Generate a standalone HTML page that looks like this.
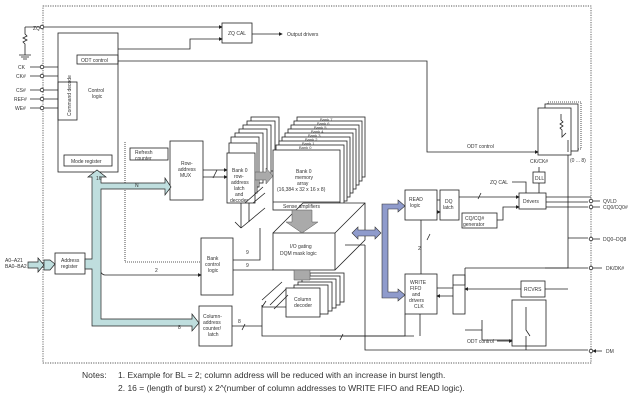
<!DOCTYPE html>
<html><head><meta charset="utf-8"><style>
html,body{margin:0;padding:0;background:#fff;}
svg{display:block;font-family:"Liberation Sans",sans-serif;}
text{fill:#333;font-size:5px;}
</style></head><body>
<svg width="640" height="415" viewBox="0 0 640 415" xmlns="http://www.w3.org/2000/svg">
<defs>
<marker id="a" markerWidth="5" markerHeight="5" refX="4" refY="2.5" orient="auto"><path d="M0,0 L5,2.5 L0,5z" fill="#222"/></marker>
</defs>
<g stroke="#222" stroke-width="0.8" fill="none">
<rect x="43" y="6" width="548" height="357" stroke-dasharray="1.2,1.2" stroke-width="0.7"/>
<path d="M25,27 H222" marker-end="url(#a)"/>
<path d="M25,27 V34 l2,2 -4,2 4,2 -4,2 2,2 V55"/>
<path d="M19,55 H31 M21,57 H29 M23,59 H27"/>
<rect x="222" y="23" width="30" height="20" fill="#fff"/>
<path d="M252,34 H282" marker-end="url(#a)"/>
<rect x="58" y="33" width="60" height="139" fill="#fff"/>
<rect x="77" y="55" width="41" height="9"/>
<rect x="58" y="82" width="19" height="38"/>
<rect x="64" y="155" width="48" height="11"/>
<path d="M118,49 H190 V39 H222" marker-end="url(#a)"/>
<path d="M118,61 H427 V152 H538" marker-end="url(#a)"/>
<path d="M30,67 H58 M30,76 H58 M30,90 H58 M30,99 H58 M30,108 H58"/>
<path d="M125,142 V262 H201" stroke-dasharray="1,1"/>
<rect x="130" y="148" width="38" height="12"/>
<rect x="170" y="141" width="33" height="59"/>
<path d="M203,170 H227" marker-end="url(#a)"/>
<path d="M203,177 H227" marker-end="url(#a)"/>
<path d="M213,178 l4,-8"/>
<g fill="#fff">
<rect x="251" y="117" width="28" height="50"/><rect x="247" y="121" width="28" height="50"/><rect x="243" y="125" width="28" height="50"/><rect x="239" y="129" width="28" height="50"/><rect x="235" y="133" width="28" height="50"/><rect x="231" y="137" width="28" height="50"/><rect x="229" y="143" width="28" height="50"/>
<rect x="227" y="153" width="28" height="50"/>
</g>
<path d="M241,203 V228 M245,203 l18,-16 M249,203 V222 M253,203 l12,-10 M241,228 l24,-20 M235,222 l6,6"/>
<g fill="#fff">
<rect x="297" y="117" width="68" height="60"/><rect x="294" y="121" width="68" height="60"/><rect x="291" y="125" width="68" height="60"/><rect x="288" y="129" width="68" height="60"/><rect x="285" y="133" width="68" height="60"/><rect x="282" y="137" width="68" height="60"/><rect x="279" y="141" width="68" height="60"/><rect x="276" y="145" width="68" height="60"/>
<rect x="273" y="150" width="67" height="60"/>
</g>
<path d="M273,202 H340"/>
<path d="M273,233 L303,203 H365 V240 L335,270" fill="#fff"/>
<rect x="273" y="233" width="62" height="37" fill="#fff"/>
<path d="M335,233 L365,203"/>
<g fill="#fff">
<rect x="310" y="273" width="34" height="29"/><rect x="306" y="276" width="34" height="29"/><rect x="302" y="279" width="34" height="29"/><rect x="298" y="282" width="34" height="29"/><rect x="294" y="285" width="34" height="29"/>
<rect x="286" y="288" width="34" height="29"/>
</g>
<path d="M270,305 l16,-16 M274,309 l14,-14 M262,300 l20,-18 M262,307 H286"/>
<rect x="201" y="238" width="32" height="57"/>
<path d="M233,260 H260 V228 M233,270 H273" />
<path d="M97,262 Q100,275 105,275 H201" marker-end="url(#a)"/>
<rect x="199" y="306" width="33" height="40"/>
<path d="M232,326 H262 V336 H405 V314 M262,326 V305"/>
<path d="M242,330 l3,-6 M340,340 l3,-6 M262,307 l4,-6"/>
<rect x="55" y="253" width="30" height="21"/>
<rect x="405" y="190" width="32" height="30"/>
<rect x="440" y="190" width="19" height="30"/>
<rect x="405" y="274" width="32" height="40"/>
<rect x="453" y="275" width="12" height="39"/>
<path d="M437,200 H440 M437,212 H440" marker-end="url(#a)"/>
<path d="M453,288 H437 M453,296 H437" marker-end="url(#a)"/>
<path d="M421,220 V274"/>
<path d="M427,240 l3,-6"/>
<path d="M459,197 H519" marker-end="url(#a)"/>
<path d="M478,199 l3,-6"/>
<rect x="462" y="213" width="35" height="15"/>
<path d="M497,220 H503 V207 H519" marker-end="url(#a)"/>
<rect x="519" y="193" width="27" height="16"/>
<rect x="533" y="172" width="12" height="11"/>
<path d="M539,167 V172 M539,183 V193 M512,182 H526 V193" />
<path d="M546,197 H591 M546,202 H588 M546,207 H588"/>
<path d="M568,152 V268 H545" />
<path d="M568,238 H588 M465,268 V285 H453 M465,268 H588"/>
<rect x="521" y="281" width="24" height="16"/>
<path d="M521,289 H465" marker-end="url(#a)"/>
<path d="M545,289 H568"/>
<path d="M420,314 V336 M482,340 H512 M482,340 V320 M465,330 H482"/>
<path d="M414,336 H320 M365,245 V350 H588 M365,245 H345"/>
<rect x="512" y="300" width="34" height="46"/>
<path d="M526,307 V330 l4,6 M526,336 V350"/>
<path d="M497,341 H512" marker-end="url(#a)"/>
<rect x="548" y="102" width="33" height="47" stroke-dasharray="1,1"/>
<rect x="545" y="104" width="33" height="47" fill="#fff"/>
<rect x="538" y="108" width="33" height="47" fill="#fff"/>
<path d="M561,114 V120 l2,2 -3,2 3,2 -3,2 2,2 V137 l4,-4 M568,140 V152"/>
<g fill="#fff">
<circle cx="42" cy="27" r="1.8"/><circle cx="42" cy="67" r="1.8"/><circle cx="42" cy="76" r="1.8"/><circle cx="42" cy="90" r="1.8"/><circle cx="42" cy="99" r="1.8"/><circle cx="42" cy="108" r="1.8"/>
<circle cx="591" cy="201" r="1.8"/><circle cx="591" cy="207" r="1.8"/><circle cx="591" cy="239" r="1.8"/><circle cx="591" cy="268" r="1.8"/><circle cx="591" cy="351" r="1.8"/>
</g>
<path d="M593,201 H600 M593,207 H600 M593,239 H600 M602,268 H593 M602,351 H593" marker-end="url(#a)"/>
</g>
<g fill="#bfdede" stroke="#222" stroke-width="0.7">
<path d="M28,262 H38 V258 L44,265 L38,272 V268 H28z"/>
<path d="M44,260 H50 L55,264 L50,270 H44z"/>
<path d="M85,259 H92 V177 H88 L97,170 L106,177 H101 V183 H165 V178 L171,187 L165,195 V189 H101 V319 H192 V314 L199,323 L192,331 V326 H92 V269 H85z"/>
</g>
<g fill="#aaa" stroke="#555" stroke-width="0.5">
<path d="M255,172 H266 V168 L273,176 L266,184 V180 H255z"/>
<path d="M292,210 H312 V222 H318 L302,233 L286,222 H292z"/>
<path d="M294,270 H310 V280 H294z"/>
</g>
<g fill="#8f9bcc" stroke="#333" stroke-width="0.6">
<path d="M382,204 H398 V200 L405,206 L398,212 V209 H388 V292 H398 V289 L405,295 L398,301 V298 H382z"/>
<path d="M352,233 L358,227 V230 H375 V227 L381,233 L375,239 V236 H358 V239z"/>
</g>
<g>
<text x="33" y="30">ZQ</text>
<text x="228" y="35">ZQ CAL</text>
<text x="287" y="36">Output drivers</text>
<text x="18" y="69">CK</text><text x="16" y="78">CK#</text><text x="16" y="92">CS#</text><text x="14" y="101">REF#</text><text x="15" y="110">WE#</text>
<text x="81" y="62">ODT control</text>
<text x="88" y="92">Control</text><text x="92" y="98">logic</text>
<text x="71" y="116" transform="rotate(-90 71 116)" font-size="4.5">Command decode</text>
<text x="71" y="163">Mode register</text>
<text x="135" y="154">Refresh</text><text x="135" y="160">counter</text>
<text x="181" y="165">Row-</text><text x="178" y="171">address</text><text x="180" y="177">MUX</text>
<text x="232" y="172">Bank 0</text><text x="234" y="178">row-</text><text x="231" y="184">address</text><text x="234" y="190">latch</text><text x="235" y="196">and</text><text x="230" y="202">decoder</text>
<text x="296" y="173">Bank 0</text><text x="295" y="179">memory</text><text x="297" y="185">array</text><text x="277" y="191">(16,384 x 32 x 16 x 8)</text>
<text x="283" y="208">Sense amplifiers</text>
<g style="font-size:4px">
<text x="320" y="121" style="font-size:4px">Bank 7</text><text x="317" y="125" style="font-size:4px">Bank 6</text><text x="314" y="129" style="font-size:4px">Bank 5</text><text x="311" y="133" style="font-size:4px">Bank 4</text><text x="308" y="137" style="font-size:4px">Bank 3</text><text x="305" y="141" style="font-size:4px">Bank 2</text><text x="302" y="145" style="font-size:4px">Bank 1</text><text x="299" y="149" style="font-size:4px">Bank 0</text>
</g>
<text x="290" y="248">I/O gating</text><text x="280" y="255">DQM mask logic</text>
<text x="294" y="301">Column</text><text x="294" y="307">decoder</text>
<text x="207" y="260">Bank</text><text x="205" y="266">control</text><text x="208" y="272">logic</text>
<text x="203" y="318">Column-</text><text x="203" y="324">address</text><text x="203" y="330">counter/</text><text x="208" y="336">latch</text>
<text x="61" y="262">Address</text><text x="61" y="268">register</text>
<text x="5" y="262">A0–A21</text><text x="5" y="268">BA0–BA2</text>
<text x="409" y="201">READ</text><text x="410" y="207">logic</text>
<text x="445" y="203">DQ</text><text x="443" y="209">latch</text>
<text x="523" y="203">Drivers</text>
<text x="535" y="180">DLL</text>
<text x="530" y="163">CK/CK#</text>
<text x="490" y="184">ZQ CAL</text>
<text x="465" y="220">CQ/CQ#</text><text x="463" y="226">generator</text>
<text x="410" y="284">WRITE</text><text x="410" y="290">FIFO</text><text x="412" y="296">and</text><text x="409" y="302">drivers</text><text x="414" y="308">CLK</text>
<text x="524" y="291">RCVRS</text>
<text x="467" y="148">ODT control</text>
<text x="467" y="343">ODT control</text>
<text x="570" y="162">(0 ... 8)</text>
<text x="603" y="203">QVLD</text><text x="603" y="209">CQ0/CQ0#</text>
<text x="603" y="241">DQ0–DQ8</text><text x="606" y="270">DK/DK#</text><text x="606" y="353">DM</text>
<text x="135" y="187">N</text><text x="178" y="329">8</text><text x="96" y="180">16</text><text x="155" y="272">2</text>
<text x="246" y="254">9</text><text x="246" y="267">9</text><text x="238" y="323">8</text><text x="418" y="250">2</text>
</g>
<text x="82" y="378" style="font-size:8.5px">Notes:</text>
<text x="118" y="378" style="font-size:8.5px">1.   Example for BL = 2; column address will be reduced with an increase in burst length.</text>
<text x="118" y="391" style="font-size:8.5px">2.   16 = (length of burst) x 2^(number of column addresses to WRITE FIFO and READ logic).</text>
</svg>
</body></html>
